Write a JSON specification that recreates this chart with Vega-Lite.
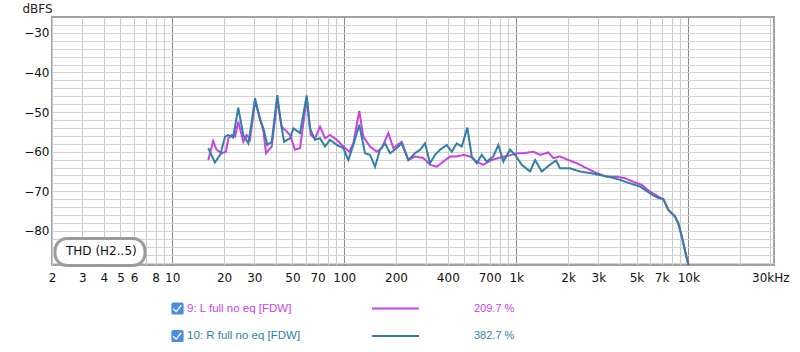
{
  "$schema": "https://vega.github.io/schema/vega-lite/v6.json",
  "width": 722,
  "height": 248,
  "autosize": {"type": "none"},
  "padding": {"left": 52, "top": 17, "right": 26, "bottom": 87},
  "background": "white",
  "config": {
    "font": "DejaVu Sans",
    "view": {"stroke": "#a3a3a3", "strokeWidth": 2},
    "axis": {"labelFontSize": 12, "labelColor": "#111111", "domain": false, "ticks": false, "labelOverlap": false, "labelFlush": false, "labelBound": false}
  },
  "datasets": {
    "meta": [
      {"k": "L", "s": "9: L full no eq [FDW]", "pct": "209.7 %", "m": "THD (H2..5)"},
      {"k": "R", "s": "10: R full no eq [FDW]", "pct": "382.7 %", "m": "THD (H2..5)"}
    ],
    "curves": [
      {"k": "R", "f": 16.2, "db": -59.1}, {"k": "R", "f": 17.7, "db": -62.7}, {"k": "R", "f": 19.0, "db": -60.8}, {"k": "R", "f": 20.3, "db": -56.2},
      {"k": "R", "f": 21.2, "db": -55.8}, {"k": "R", "f": 22.6, "db": -56.4}, {"k": "R", "f": 24.2, "db": -48.9}, {"k": "R", "f": 25.9, "db": -55.8},
      {"k": "R", "f": 27.7, "db": -57.9}, {"k": "R", "f": 29.0, "db": -52.4}, {"k": "R", "f": 30.3, "db": -46.5}, {"k": "R", "f": 32.4, "db": -52.0},
      {"k": "R", "f": 33.9, "db": -54.1}, {"k": "R", "f": 35.7, "db": -58.3}, {"k": "R", "f": 37.9, "db": -57.5}, {"k": "R", "f": 40.8, "db": -45.7},
      {"k": "R", "f": 42.7, "db": -52.4}, {"k": "R", "f": 44.7, "db": -57.5}, {"k": "R", "f": 48.4, "db": -56.6}, {"k": "R", "f": 50.6, "db": -54.1},
      {"k": "R", "f": 55.3, "db": -55.3}, {"k": "R", "f": 60.5, "db": -45.8}, {"k": "R", "f": 63.2, "db": -54.1}, {"k": "R", "f": 67.6, "db": -57.0},
      {"k": "R", "f": 72.3, "db": -56.6}, {"k": "R", "f": 77.3, "db": -58.7}, {"k": "R", "f": 82.7, "db": -57.0}, {"k": "R", "f": 90.4, "db": -58.3},
      {"k": "R", "f": 98.8, "db": -59.1}, {"k": "R", "f": 105.6, "db": -62.1}, {"k": "R", "f": 112.9, "db": -58.3}, {"k": "R", "f": 122.3, "db": -53.2},
      {"k": "R", "f": 132.1, "db": -60.4}, {"k": "R", "f": 141.2, "db": -60.8}, {"k": "R", "f": 151.0, "db": -63.8}, {"k": "R", "f": 161.4, "db": -59.5},
      {"k": "R", "f": 172.6, "db": -57.9}, {"k": "R", "f": 184.6, "db": -60.4}, {"k": "R", "f": 201.9, "db": -59.1}, {"k": "R", "f": 215.8, "db": -57.9},
      {"k": "R", "f": 235.8, "db": -62.1}, {"k": "R", "f": 258.0, "db": -60.4}, {"k": "R", "f": 275.8, "db": -59.5}, {"k": "R", "f": 294.9, "db": -57.9},
      {"k": "R", "f": 315.3, "db": -62.9}, {"k": "R", "f": 337.1, "db": -60.8}, {"k": "R", "f": 360.5, "db": -59.5}, {"k": "R", "f": 394.4, "db": -58.3},
      {"k": "R", "f": 421.6, "db": -60.0}, {"k": "R", "f": 450.8, "db": -57.9}, {"k": "R", "f": 482.0, "db": -58.7}, {"k": "R", "f": 519.6, "db": -53.9},
      {"k": "R", "f": 551.0, "db": -61.2}, {"k": "R", "f": 589.0, "db": -62.9}, {"k": "R", "f": 630.1, "db": -60.8}, {"k": "R", "f": 673.7, "db": -62.5},
      {"k": "R", "f": 735.8, "db": -61.2}, {"k": "R", "f": 786.7, "db": -58.3}, {"k": "R", "f": 841.2, "db": -62.5}, {"k": "R", "f": 920.1, "db": -59.5},
      {"k": "R", "f": 983.9, "db": -60.8}, {"k": "R", "f": 1076, "db": -63.3}, {"k": "R", "f": 1203, "db": -65.0}, {"k": "R", "f": 1286, "db": -62.1},
      {"k": "R", "f": 1407, "db": -65.0}, {"k": "R", "f": 1537, "db": -63.6}, {"k": "R", "f": 1703, "db": -62.2}, {"k": "R", "f": 1797, "db": -64.2},
      {"k": "R", "f": 2054, "db": -64.2}, {"k": "R", "f": 2349, "db": -65.0}, {"k": "R", "f": 2685, "db": -65.4}, {"k": "R", "f": 3069, "db": -65.9},
      {"k": "R", "f": 3509, "db": -66.4}, {"k": "R", "f": 4011, "db": -67.1}, {"k": "R", "f": 4587, "db": -68.0}, {"k": "R", "f": 5243, "db": -68.8},
      {"k": "R", "f": 5996, "db": -70.5}, {"k": "R", "f": 6700, "db": -71.7}, {"k": "R", "f": 7165, "db": -72.0}, {"k": "R", "f": 7661, "db": -74.7},
      {"k": "R", "f": 8381, "db": -76.4}, {"k": "R", "f": 8756, "db": -78.1}, {"k": "R", "f": 9163, "db": -81.4}, {"k": "R", "f": 10008, "db": -88.6},
      {"k": "R", "f": 10250, "db": -90.5},
      {"k": "L", "f": 16.2, "db": -62.1}, {"k": "L", "f": 17.3, "db": -57.3}, {"k": "L", "f": 18.1, "db": -59.5}, {"k": "L", "f": 19.4, "db": -60.4},
      {"k": "L", "f": 20.5, "db": -60.0}, {"k": "L", "f": 21.2, "db": -56.6}, {"k": "L", "f": 22.2, "db": -55.8}, {"k": "L", "f": 23.2, "db": -56.2},
      {"k": "L", "f": 24.2, "db": -52.4}, {"k": "L", "f": 25.9, "db": -57.5}, {"k": "L", "f": 27.1, "db": -55.8}, {"k": "L", "f": 28.3, "db": -57.0},
      {"k": "L", "f": 30.3, "db": -47.3}, {"k": "L", "f": 32.4, "db": -51.5}, {"k": "L", "f": 33.9, "db": -54.9}, {"k": "L", "f": 35.1, "db": -60.4},
      {"k": "L", "f": 37.9, "db": -58.7}, {"k": "L", "f": 40.8, "db": -46.9}, {"k": "L", "f": 43.3, "db": -53.7}, {"k": "L", "f": 46.3, "db": -54.9},
      {"k": "L", "f": 48.4, "db": -55.8}, {"k": "L", "f": 51.7, "db": -59.5}, {"k": "L", "f": 55.3, "db": -59.1}, {"k": "L", "f": 60.5, "db": -46.5},
      {"k": "L", "f": 63.8, "db": -55.8}, {"k": "L", "f": 67.6, "db": -56.6}, {"k": "L", "f": 72.3, "db": -53.7}, {"k": "L", "f": 77.3, "db": -56.6},
      {"k": "L", "f": 82.7, "db": -55.8}, {"k": "L", "f": 90.4, "db": -57.0}, {"k": "L", "f": 98.8, "db": -58.7}, {"k": "L", "f": 107.0, "db": -60.0},
      {"k": "L", "f": 112.9, "db": -57.9}, {"k": "L", "f": 122.3, "db": -49.7}, {"k": "L", "f": 129.1, "db": -56.2}, {"k": "L", "f": 141.2, "db": -58.7},
      {"k": "L", "f": 154.5, "db": -60.0}, {"k": "L", "f": 165.2, "db": -59.1}, {"k": "L", "f": 180.4, "db": -55.3}, {"k": "L", "f": 192.9, "db": -59.1},
      {"k": "L", "f": 215.8, "db": -57.5}, {"k": "L", "f": 235.8, "db": -62.1}, {"k": "L", "f": 258.0, "db": -61.2}, {"k": "L", "f": 288.2, "db": -61.6},
      {"k": "L", "f": 315.3, "db": -63.3}, {"k": "L", "f": 344.8, "db": -63.8}, {"k": "L", "f": 376.7, "db": -62.5}, {"k": "L", "f": 412.2, "db": -61.2},
      {"k": "L", "f": 450.8, "db": -61.2}, {"k": "L", "f": 492.4, "db": -60.8}, {"k": "L", "f": 538.5, "db": -61.2}, {"k": "L", "f": 589.0, "db": -62.5},
      {"k": "L", "f": 643.8, "db": -63.3}, {"k": "L", "f": 720.2, "db": -62.1}, {"k": "L", "f": 786.7, "db": -61.6}, {"k": "L", "f": 860.6, "db": -61.2},
      {"k": "L", "f": 941.4, "db": -60.8}, {"k": "L", "f": 1006, "db": -60.4}, {"k": "L", "f": 1099, "db": -60.4}, {"k": "L", "f": 1257, "db": -60.0},
      {"k": "L", "f": 1375, "db": -60.8}, {"k": "L", "f": 1537, "db": -60.2}, {"k": "L", "f": 1642, "db": -61.6}, {"k": "L", "f": 1797, "db": -61.2},
      {"k": "L", "f": 2008, "db": -62.1}, {"k": "L", "f": 2247, "db": -62.9}, {"k": "L", "f": 2569, "db": -64.2}, {"k": "L", "f": 2937, "db": -65.4},
      {"k": "L", "f": 3358, "db": -66.3}, {"k": "L", "f": 3838, "db": -66.3}, {"k": "L", "f": 4291, "db": -66.7}, {"k": "L", "f": 4794, "db": -67.6},
      {"k": "L", "f": 5366, "db": -68.4}, {"k": "L", "f": 5996, "db": -70.1}, {"k": "L", "f": 6700, "db": -71.3}, {"k": "L", "f": 7165, "db": -72.0},
      {"k": "L", "f": 7661, "db": -74.7}, {"k": "L", "f": 8381, "db": -76.4}, {"k": "L", "f": 8756, "db": -78.1}, {"k": "L", "f": 9163, "db": -81.4},
      {"k": "L", "f": 10008, "db": -88.6}, {"k": "L", "f": 10250, "db": -90.5}
    ]
  },
  "data": {"name": "curves"},
  "transform": [{"lookup": "k", "from": {"data": {"name": "meta"}, "key": "k", "fields": ["s", "pct", "m"]}}],
  "encoding": {
    "x": {
      "field": "f", "type": "quantitative",
      "scale": {"type": "log", "domain": [2, 31500], "nice": false},
      "axis": {
        "title": null, "labelPadding": 7,
        "values": [2,3,4,5,6,7,8,9,10,20,30,40,50,60,70,80,90,100,200,300,400,500,600,700,800,900,1000,2000,3000,4000,5000,6000,7000,8000,9000,10000,20000,30000],
        "labelExpr": "indexof([2,3,4,5,6,8,10,20,30,50,70,100,200,400,700,1000,2000,3000,5000,7000,10000,30000], datum.value) < 0 ? '' : (datum.value == 30000 ? '30kHz' : (datum.value >= 1000 ? (datum.value / 1000) + 'k' : '' + datum.value))",
        "gridColor": {"condition": {"test": "datum.value == 10 || datum.value == 100 || datum.value == 1000 || datum.value == 10000", "value": "#8a8a8a"}, "value": "#c8c8c8"}
      }
    },
    "y": {
      "field": "db", "type": "quantitative",
      "scale": {"domain": [-88.6, -26], "nice": false, "zero": false},
      "axis": {
        "labelPadding": 3,
        "values": [-88,-86,-84,-82,-80,-78,-76,-74,-72,-70,-68,-66,-64,-62,-60,-58,-56,-54,-52,-50,-48,-46,-44,-42,-40,-38,-36,-34,-32,-30,-28],
        "labelExpr": "datum.value % 10 == 0 ? datum.label : ''",
        "gridColor": "#d3d3d3",
        "title": "dBFS", "titleAngle": 0, "titleX": -30, "titleY": -9, "titleAlign": "left", "titleBaseline": "middle",
        "titleFontWeight": "normal", "titleFontSize": 12, "titleColor": "#222222"
      }
    },
    "color": {
      "field": "pct", "type": "nominal",
      "scale": {"domain": ["209.7 %", "382.7 %"], "range": ["#c443e6", "#2f7fa6"]},
      "legend": {
        "orient": "none", "legendX": 319, "legendY": 285, "title": null, "padding": 0,
        "clipHeight": 13, "rowPadding": 14.5, "labelOffset": 54, "labelFont": "Liberation Sans",
        "labelFontSize": 11, "symbolType": "stroke", "symbolSize": 2209, "symbolStrokeWidth": 2,
        "encode": {
          "labels": {"update": {"fill": {"scale": "color", "field": "value"}}}
        }
      }
    },
    "opacity": {
      "field": "s", "type": "nominal",
      "scale": {"domain": ["9: L full no eq [FDW]", "10: R full no eq [FDW]"], "range": [1, 1]},
      "legend": {
        "orient": "none", "legendX": 119, "legendY": 285, "title": null, "padding": 0,
        "clipHeight": 13, "rowPadding": 14.5, "labelOffset": 3, "labelFont": "Liberation Sans",
        "labelFontSize": 11.5, "labelLimit": 300,
        "symbolType": "M-1,-0.7 Q-1,-1 -0.7,-1 L0.7,-1 Q1,-1 1,-0.7 L1,0.7 Q1,1 0.7,1 L-0.7,1 Q-1,1 -1,0.7 Z M-0.65,-0.05 L-0.8,0.12 L-0.2,0.65 L0.68,-0.45 L0.5,-0.6 L-0.2,0.35 Z",
        "symbolSize": 150, "symbolFillColor": "#4a8fdf", "symbolStrokeWidth": 0,
        "encode": {
          "symbols": {"update": {"fill": {"value": "#4a8fdf"}, "fillOpacity": {"value": 1}, "stroke": {"value": "transparent"}, "strokeWidth": {"value": 0}, "opacity": {"value": 1}}},
          "labels": {"update": {"fill": {"signal": "datum.value == '9: L full no eq [FDW]' ? '#c443e6' : '#2f7fa6'"}}}
        }
      }
    },
    "strokeDash": {
      "field": "m", "type": "nominal",
      "scale": {"range": [[1, 0]]},
      "legend": {
        "orient": "none", "legendX": 3, "legendY": 221.5, "title": null, "padding": 8,
        "clipHeight": 9, "labelOffset": -9, "labelFont": "DejaVu Sans", "labelFontSize": 12, "labelColor": "#111111",
        "symbolSize": 1, "symbolStrokeWidth": 0, "symbolOpacity": 0,
        "strokeColor": "#9b9b9b", "fillColor": "#ffffff", "cornerRadius": 12,
        "encode": {"legend": {"update": {"strokeWidth": {"value": 3}}}, "symbols": {"update": {"opacity": {"value": 0}}}}
      }
    }
  },
  "layer": [
    {"transform": [{"filter": "datum.k == 'L'"}], "mark": {"type": "line", "clip": true, "strokeWidth": 2}},
    {"transform": [{"filter": "datum.k == 'R'"}], "mark": {"type": "line", "clip": true, "strokeWidth": 2}}
  ]
}
